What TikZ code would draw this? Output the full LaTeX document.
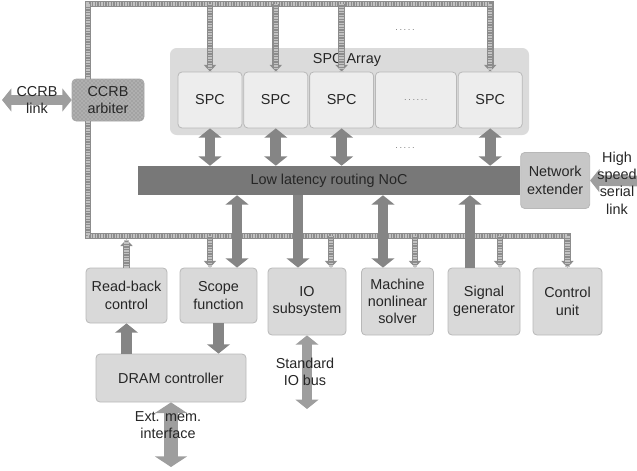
\documentclass[tikz,border=0pt]{standalone}
\usepackage{fontspec}
\setmainfont{Liberation Sans}
\usetikzlibrary{positioning,arrows.meta,patterns}
\definecolor{boxgray}{gray}{0.85}
\definecolor{boxline}{gray}{0.72}
\definecolor{spcgray}{gray}{0.93}
\definecolor{arrbg}{gray}{0.86}
\definecolor{netgray}{gray}{0.78}
\definecolor{nocgray}{gray}{0.47}
\definecolor{fatgray}{gray}{0.52}
\definecolor{linkgray}{gray}{0.62}
\definecolor{busgray}{gray}{0.55}
\definecolor{busdot}{gray}{0.76}
\definecolor{txtgray}{gray}{0.15}

\begin{document}
\begin{tikzpicture}[x=0.75pt,y=-0.75pt,
  every node/.style={font=\fontsize{10.8}{13}\selectfont,align=center,text=txtgray,inner sep=0pt},
  sz/.style 2 args={minimum width=#1*0.75pt,minimum height=#2*0.75pt},
  blk/.style={draw=boxline,fill=boxgray,rounded corners=3pt,line width=0.6pt},
  spcbox/.style={blk,fill=spcgray,sz={64}{56}},
  fat/.style={draw=fatgray,line width=8pt,>={Triangle[width=17pt,length=7pt]}},
  link/.style={fat,draw=linkgray},
  bus/.style={draw=busgray,line width=5.2pt,>={Triangle[width=9pt,length=5pt]},
    postaction={draw=busdot,-,line width=3.4pt,dash pattern=on 1pt off 1pt}},
  dotsnode/.style={text=gray,font=\scriptsize}]
\useasboundingbox (0,0) rectangle (637,471);
\node[fill=arrbg,rounded corners=5pt,sz={359}{87}] (spcarr) at (349.5,91.5) {};
\node (arrlbl) at (347,60) {SPC Array};
\node[spcbox] (spc1) at (210,100) {SPC}; \node[spcbox,right=0.75pt of spc1] (spc2) {SPC};
\node[spcbox,right=0.75pt of spc2] (spc3) {SPC};
\node[spcbox,sz={81}{56},right=0.75pt of spc3] (spc4) {\textcolor{gray}{\scriptsize.\,.\,.\,.\,.\,.}};
\node[spcbox,right=0.75pt of spc4] (spc5) {SPC};
\node[fill=nocgray,sz={382}{29}] (noc) at (329,180.5) {Low latency routing NoC};
\node[blk,fill=netgray,sz={69}{56},right=0pt of noc] (netext) {Network\\extender};
\node[draw=black!35,rounded corners=3pt,preaction={fill=black!36},pattern=crosshatch dots,pattern color=black!14,sz={72}{42}] (ccrb) at (108,100) {CCRB\\arbiter};
\node[blk,sz={81}{55}] (readback) at (126.5,295.5) {Read-back\\control};
\node[blk,sz={77}{55}] (scope) at (218.5,295.5) {Scope\\function};
\node[blk,sz={78}{67}] (io) at (307,301.5) {IO\\subsystem};
\node[blk,sz={72}{67}] (machine) at (397.5,301.5) {Machine\\nonlinear\\solver};
\node[blk,sz={72}{67}] (signal) at (484,301.5) {Signal\\generator};
\node[blk,sz={69}{67}] (control) at (567.5,301.5) {Control\\unit};
\node[blk,sz={150}{48}] (dram) at (171,378) {DRAM controller};
\node[dotsnode] (dots1) at (405,30) {.\,.\,.\,.\,.}; \node[dotsnode] (dots2) at (405,148) {.\,.\,.\,.\,.};
\coordinate (tl) at (88,4); \coordinate (bl) at (88,236); \coordinate (linkend) at (2,100);
\coordinate (hsend) at (637,181); \coordinate (memend) at (171,467); \coordinate (iobusend) at (307,409);
% bus
\draw[bus,->] (tl|-ccrb.north) -- (tl) -| (spc5.north);
\draw[bus,->] (tl|-ccrb.south) -- (bl) -| (control.north);
\foreach \n in {spc1,spc2,spc3} \draw[bus,->] (\n.north|-tl) -- (\n.north);
\draw[bus,->] (readback.north) -- ([yshift=-2.5pt]readback.north|-bl);
\draw[bus,->] ([xshift=-6.4pt]scope.north|-bl) -- ([xshift=-6.4pt]scope.north);
\draw[bus,->] ([xshift=18pt]io.north|-bl) -- ([xshift=18pt]io.north);
\draw[bus,->] ([xshift=13.1pt]machine.north|-bl) -- ([xshift=13.1pt]machine.north);
\draw[bus,->] ([xshift=12pt]signal.north|-bl) -- ([xshift=12pt]signal.north);
% noc links
\foreach \n in {spc1,spc2,spc3,spc5} \draw[fat,<->] (\n.south) -- (\n.south|-noc.north);
\draw[fat,<->] ([xshift=13.9pt]scope.north) -- ([xshift=13.9pt]scope.north|-noc.south);
\draw[fat,->] ([xshift=-6.75pt]io.north|-noc.south) -- ([xshift=-6.75pt]io.north);
\draw[fat,<->] ([xshift=-10.9pt]machine.north) -- ([xshift=-10.9pt]machine.north|-noc.south);
\draw[fat,->] ([xshift=-10.5pt]signal.north) -- ([xshift=-10.5pt]signal.north|-noc.south);
\draw[fat,->] (readback.south|-dram.north) -- (readback.south);
\draw[fat,->] (scope.south) -- (scope.south|-dram.north);
% external links
\draw[link,<->] (linkend) -- (ccrb.west); \node (ccrblink) at (37,100) {CCRB\\link};
\draw[link,->] (hsend) -- (netext.east); \node (hslbl) at (617,183) {High\\speed\\serial\\link};
\draw[link,<->,line width=10pt,>={Triangle[width=24pt,length=8pt]}] (dram.south) -- (memend);
\node (memlbl) at (168,425) {Ext. mem.\\interface};
\draw[link,<->] (io.south) -- (iobusend); \node (iolbl) at (305,372) {Standard\\IO bus};
\end{tikzpicture}
\end{document}
